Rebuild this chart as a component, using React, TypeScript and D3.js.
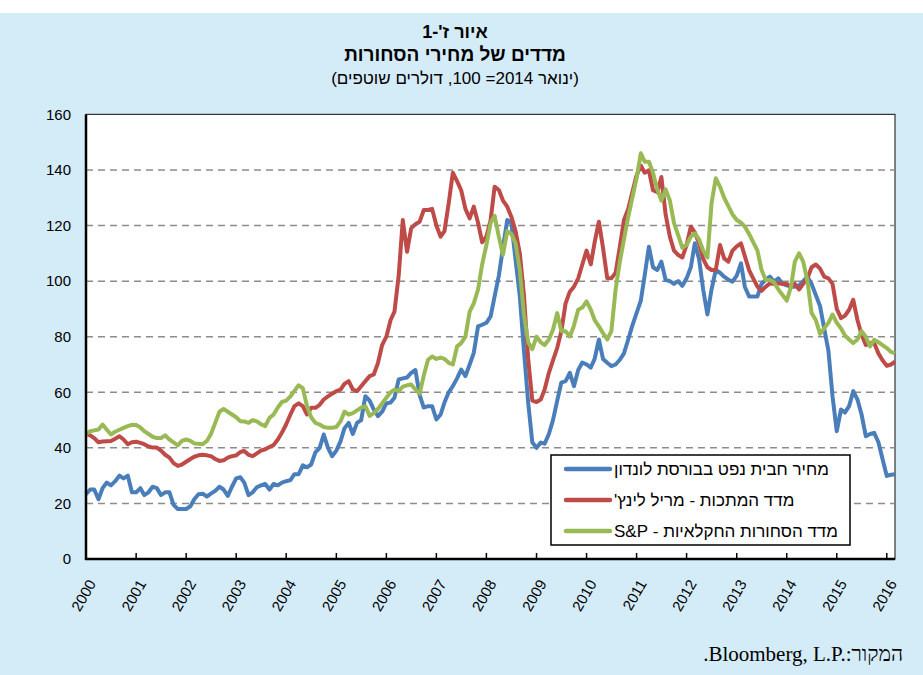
import React, { useEffect, useRef } from "react";
import * as d3 from "d3";

// monthly values, Jan 2000 - Mar 2016 (Jan 2014 = 100)
const oilBrent = [
  23.3, 25, 25, 21.5, 25.5, 27.5, 26.5, 28, 30, 29, 30, 24,
  24, 25.5, 23, 24, 26, 25.5, 23, 24, 24, 19.5, 18, 18,
  18, 19, 21.5, 23.3, 23.5, 22.5, 23.5, 24.5, 26, 25, 22.7, 26,
  29, 29.4, 27.5, 23, 24, 25.8, 26.5, 27, 25, 27, 26.5, 27.5,
  28, 28.4, 30.5, 30.5, 33.7, 33, 34, 38.4, 40, 44.8, 40, 37,
  39, 42.4, 47, 49, 45, 49, 50, 58.6, 57, 53.8, 51.4, 53,
  56, 56.3, 58, 64.6, 65, 65.3, 67, 68, 59, 54.5, 55, 55,
  50.2, 52, 56.3, 60, 62.2, 65, 68.2, 65.8, 70, 74.2, 83.7, 84.3,
  85, 87.3, 94.5, 102, 112, 122, 121, 107.6, 94.5, 75, 56.3, 42,
  40, 41.9, 41.5, 45, 50, 57, 63.5, 64, 67, 62.2, 68, 70.7,
  70, 68.9, 72, 79, 72, 70.6, 69.4, 70, 71.7, 74, 79, 84,
  88.5, 93, 102, 112.4, 105, 104, 107, 100.4, 100, 99, 100, 98.3,
  101, 105, 113.6, 108, 97, 88, 97, 104, 103, 101.6, 100.5, 99.8,
  102, 106.4, 98, 94.5, 94.5, 94.5, 99, 100.5, 101.6, 99.8, 101, 99,
  98.5, 98, 98, 98.5, 100, 101.6, 99, 95, 91, 83, 75, 58.6,
  46, 53.8, 52.7, 55, 60.4, 57.4, 52, 44.2, 45, 45.4, 42, 36,
  29.9, 30.3, 30.5,
];

const metalsML = [
  45, 44.5, 43.5, 42, 42.3, 42.4, 42.5, 43.3, 44.2, 43, 41.3, 42,
  42.2, 41.8, 41.3, 40.5, 40.1, 40.1, 39, 37.5, 36.5, 34.5, 33.5, 34,
  35, 36, 36.8, 37.3, 37.5, 37.3, 37, 36, 35.3, 35.5, 36.5, 37,
  37.3, 38.5, 38.9, 37.5, 37, 38, 39, 39.5, 40.3, 41, 43, 45.5,
  48.5, 52, 55, 56, 55, 52, 54.4, 54.4, 55.5, 57.4, 58.5, 59.5,
  60.4, 61, 63, 64, 61, 60.4, 62.2, 64, 65.8, 66.4, 70.6, 77,
  80, 86, 89, 102, 122, 110.6, 119, 120.5, 121.4, 125.6, 125.6, 126,
  120, 116, 118, 128, 139, 136, 132.7, 126, 122.6, 126.8, 121, 114,
  116, 122, 134, 132.8, 129, 126.8, 123.2, 118, 110, 95, 72, 57,
  56.5, 57.4, 61, 67, 71.5, 76, 82, 92, 96.2, 98, 101, 106,
  111, 106, 114, 121.4, 112, 101, 101, 103, 112.4, 122, 126, 132,
  138, 141.6, 139, 139.9, 132.7, 132, 137.5, 124, 116, 111, 109.4, 108.5,
  113, 119.6, 117.5, 113.6, 108, 105, 104, 104, 113, 108.2, 107, 111,
  112.5, 113.6, 109, 104, 101, 98, 96.5, 98, 99.2, 99, 99.2, 99,
  99, 98, 99, 97, 99, 101, 105, 106, 104.5, 101.6, 101, 99,
  90, 86.7, 87.5, 89.7, 93.3, 86, 80.7, 77, 77.7, 77.7, 74, 71.5,
  69.5, 70, 71,
];

const agriSP = [
  45, 46, 46.3, 46.6, 48.4, 46.5, 44.8, 45.8, 46.5, 47.2, 47.8, 48.3,
  48.2, 47.3, 46, 45, 44, 43.5, 43.5, 44.5, 43, 42, 40.9, 42.5,
  43, 42.5, 41.6, 41.5, 41.3, 42.5, 45, 49, 53, 54, 53, 52,
  51, 49.6, 49.5, 49, 50, 49.5, 48.5, 47.8, 50.8, 52, 54.5, 56.5,
  57, 58.5, 60.5, 62.5, 61.5, 55, 51, 49, 48.4, 47.5, 47.2, 47.2,
  47.5, 49.6, 53, 52, 52.5, 53.5, 54.5, 55, 51.5, 52.5, 54, 56,
  58, 60, 61, 60.4, 62, 62.5, 62.8, 61, 59.5, 66, 71.7, 72.9,
  72, 72.5, 72, 70.6, 70, 76.5, 77.7, 80, 89, 92, 97, 106,
  113, 121, 123.5, 116, 109.5, 118, 117, 113.6, 104, 88, 78, 75.5,
  80, 78, 77, 79, 82.5, 88.5, 82, 82, 80.1, 84, 89.7, 90.5,
  92.7, 89.7, 86, 83.7, 81.3, 79, 82, 97, 107, 115, 123, 130,
  137, 146, 143, 143, 139, 133, 129, 133, 129, 121, 116.5, 112,
  113, 116, 117.2, 115, 111, 108.5, 128, 137, 134, 130, 127, 124,
  122, 121, 119.6, 117, 114, 111, 104, 100.4, 100.4, 99.5, 97, 95,
  93, 98, 107, 110, 107, 100, 88.5, 86, 81, 83, 85, 88,
  85, 83, 80.5, 79, 77.7, 79, 82, 80, 76.5, 78.9, 78, 77,
  75.9, 74.5, 74,
];

const yTicks = [0, 20, 40, 60, 80, 100, 120, 140, 160];
const yearLabels = ["2000", "2001", "2002", "2003", "2004", "2005", "2006", "2007", "2008",
  "2009", "2010", "2011", "2012", "2013", "2014", "2015", "2016"];
const seriesNames = [
  "מחיר חבית נפט בבורסת לונדון",
  "מדד המתכות - מריל לינץ'",
  "מדד הסחורות החקלאיות - S&P",
];
const seriesColors = ["#4a7ebb", "#be4b48", "#98b954"];
const titleLines = ["איור ז'-1", "מדדים של מחירי הסחורות", "(ינואר 2014= 100, דולרים שוטפים)"];
const sourceText = ".Bloomberg, L.P.:המקור";

const W = 923;
const H = 675;
const FONT = "'Liberation Sans', Arial, 'DejaVu Sans', sans-serif";

const CommodityChart = () => {
  const svgRef = useRef<SVGSVGElement>(null);

  useEffect(() => {
    const svg = d3.select(svgRef.current);
    svg.selectAll("*").remove();

    const left = 86, right = 895, top = 114.4, bottom = 559;
    const months = d3.timeMonth.range(new Date(2000, 0, 1), new Date(2016, 3, 1));

    const x = d3.scaleTime()
      .domain([months[0], months[months.length - 1]])
      .range([left, right]);
    const y = d3.scaleLinear().domain([0, 160]).range([bottom, top]);

    // background panel
    svg.append("rect").attr("x", 0).attr("y", 13).attr("width", W).attr("height", H - 13)
      .attr("fill", "#d4ebf8");

    // titles
    const titleY = [38, 61, 84];
    const titleSize = [18, 19, 17];
    titleLines.forEach((t, i) => {
      svg.append("text")
        .attr("x", 455).attr("y", titleY[i])
        .attr("text-anchor", "middle")
        .attr("direction", "rtl")
        .attr("font-family", FONT)
        .attr("font-size", titleSize[i])
        .attr("font-weight", i < 2 ? "bold" : "normal")
        .text(t);
    });

    // plot area
    svg.append("rect").attr("x", left).attr("y", top)
      .attr("width", right - left).attr("height", bottom - top)
      .attr("fill", "#fff").attr("stroke", "#333").attr("stroke-width", 1.2);

    // gridlines
    svg.append("g").selectAll("line")
      .data(yTicks.filter(d => d > 0 && d < 160))
      .join("line")
      .attr("x1", left).attr("x2", right)
      .attr("y1", d => y(d)).attr("y2", d => y(d))
      .attr("stroke", "#8c8c8c").attr("stroke-width", 1.5)
      .attr("stroke-dasharray", "7,5");

    // y labels
    svg.append("g").selectAll("text")
      .data(yTicks)
      .join("text")
      .attr("x", 71).attr("y", d => y(d))
      .attr("dy", "0.35em")
      .attr("text-anchor", "end")
      .attr("font-family", FONT).attr("font-size", 15)
      .text(d => d);

    // series
    const line = d3.line<number>()
      .x((_, i) => x(months[i]))
      .y(d => y(d));

    [oilBrent, metalsML, agriSP].forEach((s, i) => {
      svg.append("path")
        .datum(s)
        .attr("fill", "none")
        .attr("stroke", seriesColors[i])
        .attr("stroke-width", 4)
        .attr("stroke-linejoin", "round")
        .attr("d", line);
    });

    // axes
    svg.append("line").attr("x1", left).attr("x2", left).attr("y1", top).attr("y2", bottom + 1)
      .attr("stroke", "#000").attr("stroke-width", 2.5);
    svg.append("line").attr("x1", left - 1).attr("x2", right).attr("y1", bottom).attr("y2", bottom)
      .attr("stroke", "#000").attr("stroke-width", 2.5);

    const yearDates = yearLabels.map(l => new Date(+l, 0, 1));
    svg.append("g").selectAll("line")
      .data(yearDates.slice(1))
      .join("line")
      .attr("x1", d => x(d)).attr("x2", d => x(d))
      .attr("y1", bottom).attr("y2", bottom - 6)
      .attr("stroke", "#000").attr("stroke-width", 1.5);

    svg.append("g").selectAll("text")
      .data(yearDates)
      .join("text")
      .attr("transform", d => `translate(${x(d) + 6},${581}) rotate(-60)`)
      .attr("dy", "0.35em")
      .attr("text-anchor", "end")
      .attr("font-family", FONT).attr("font-size", 15)
      .text((_, i) => yearLabels[i]);

    // legend
    const lg = svg.append("g");
    lg.append("rect").attr("x", 551).attr("y", 455).attr("width", 299).attr("height", 90)
      .attr("fill", "#fff").attr("stroke", "#000").attr("stroke-width", 1.5);
    seriesNames.forEach((n, i) => {
      const ly = 469 + i * 31;
      lg.append("line").attr("x1", 566).attr("x2", 610).attr("y1", ly).attr("y2", ly)
        .attr("stroke", seriesColors[i]).attr("stroke-width", 4.5).attr("stroke-linecap", "round");
      lg.append("text")
        .attr("x", 614).attr("y", ly).attr("dy", "0.35em")
        .attr("direction", "rtl")
        .attr("text-anchor", "end")
        .attr("font-family", FONT).attr("font-size", 17)
        .text(n);
    });

    // source
    svg.append("text")
      .attr("x", 903).attr("y", 661)
      .attr("text-anchor", "end")
      .attr("font-family", "'Liberation Serif', 'Times New Roman', serif")
      .attr("font-size", 21)
      .text(sourceText);
  }, []);

  return (
    <svg ref={svgRef} width={W} height={H}
      style={{ position: "absolute", left: 0, top: 0 }} />
  );
};

export default function App() {
  return <CommodityChart />;
}
